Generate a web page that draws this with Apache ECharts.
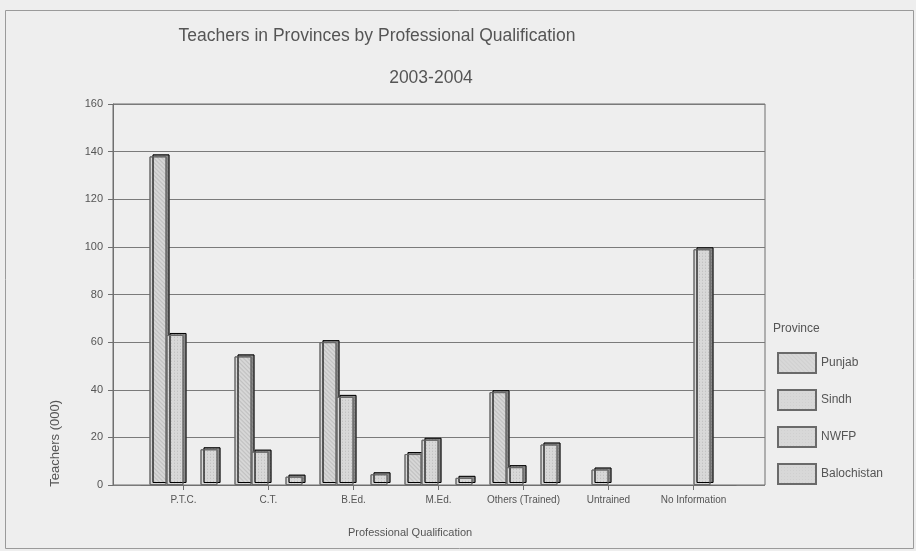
<!DOCTYPE html>
<html>
<head>
<meta charset="utf-8">
<script src="https://cdn.jsdelivr.net/npm/echarts@6/dist/echarts.min.js"></script>
<style>
  html, body { margin: 0; padding: 0; background: #e9e9e9; }
  #chart { width: 916px; height: 551px; }
</style>
</head>
<body>
<div id="chart"></div>
<script>
// categories along the x axis
const qualifications = ["P.T.C.", "C.T.", "B.Ed.", "M.Ed.", "Others (Trained)", "Untrained", "No Information"];

// teachers in thousands
const punjab = [138, 54, 60, 13, 39, 0, 0];
const sindh = [63, 14, 37, 19, 7.5, 6.5, 0];
const nwfp = [0, 0, 0, 0, 0, 0, 99];
const balochistan = [15, 3.5, 4.5, 3, 17, 0, 0];

const provinces = ["Punjab", "Sindh", "NWFP", "Balochistan"];
const yTicks = { min: 0, max: 160, step: 20 };

const chart = echarts.init(document.getElementById("chart"));

const textColor = "#555";
const font = "Liberation Sans, Arial, sans-serif";

// hatch pattern for Punjab, fine dots for the rest
const crossHatch = {
  symbol: "rect",
  symbolSize: 0.5,
  dashArrayX: [1, 0],
  dashArrayY: [1, 2],
  rotation: Math.PI / 4,
  color: "rgba(120,120,120,0.35)",
};
const dots = {
  symbol: "rect",
  symbolSize: 0.6,
  dashArrayX: [1, 2],
  dashArrayY: [1, 2],
  color: "rgba(140,140,140,0.35)",
};

const makeBar = (name, data, decal) => ({
  name,
  type: "bar",
  xAxisIndex: 1,
  yAxisIndex: 1,
  data: data.map((v) => (v === 0 ? null : v)),
  barGap: "0%",
  barCategoryGap: "20%",
  itemStyle: {
    color: "#d8d8d8",
    borderColor: "#6a6a6a",
    borderWidth: 1,
    decal,
    shadowColor: "#8a8a8a",
    shadowOffsetX: 3,
    shadowOffsetY: -2,
    shadowBlur: 0,
  },
});

chart.setOption({
  backgroundColor: "#eeeeee",
  animation: false,
  textStyle: { fontFamily: font },
  title: [
    {
      text: "Teachers in Provinces by Professional Qualification",
      left: 372,
      top: 22,
      textAlign: "center",
      textStyle: { fontSize: 17.5, fontWeight: "normal", color: textColor, fontFamily: font },
    },
    {
      text: "2003-2004",
      left: 426,
      top: 64,
      textAlign: "center",
      textStyle: { fontSize: 17.5, fontWeight: "normal", color: textColor, fontFamily: font },
    },
    {
      text: "Province",
      left: 768,
      top: 318,
      textStyle: { fontSize: 12, fontWeight: "normal", color: textColor, fontFamily: font },
    },
  ],
  legend: {
    orient: "vertical",
    left: 772,
    top: 347,
    itemWidth: 38,
    itemHeight: 20,
    itemGap: 15,
    icon: "rect",
    textStyle: { fontSize: 12, color: textColor, fontFamily: font },
    data: provinces,
  },
  graphic: [
    {
      type: "rect",
      left: 3,
      top: 8,
      shape: { width: 908, height: 538 },
      style: { fill: "none", stroke: "#9a9a9a", lineWidth: 1 },
    },
    {
      type: "text",
      left: 49,
      top: 400,
      rotation: Math.PI / 2,
      style: { text: "Teachers (000)", fill: textColor, font: "13px " + font },
    },
    {
      type: "text",
      left: 348,
      top: 527,
      style: { text: "Professional Qualification", fill: textColor, font: "11px " + font },
    },
  ],
  grid: [
    // frame with gridlines
    { left: 113, right: 151, top: 104, bottom: 66, show: true, borderColor: "#6f6f6f", borderWidth: 1, backgroundColor: "transparent" },
    // bars, inset inside the frame like the original
    { left: 141, right: 180, top: 104, bottom: 66 },
  ],
  xAxis: [
    {
      gridIndex: 0,
      type: "category",
      data: qualifications,
      axisLine: { show: false },
      axisTick: { show: false },
      axisLabel: { show: false },
    },
    {
      gridIndex: 1,
      type: "category",
      data: qualifications,
      axisLine: { show: true, lineStyle: { color: "#6f6f6f" } },
      axisTick: { show: true, alignWithLabel: true, length: 5, lineStyle: { color: "#6f6f6f" } },
      axisLabel: { color: textColor, fontSize: 10, margin: 10, interval: 0, fontFamily: font },
    },
  ],
  yAxis: [
    {
      gridIndex: 0,
      type: "value",
      min: yTicks.min,
      max: yTicks.max,
      interval: yTicks.step,
      axisLine: { show: true, lineStyle: { color: "#6f6f6f" } },
      axisTick: { show: true, length: 5, lineStyle: { color: "#6f6f6f" } },
      axisLabel: { color: textColor, fontSize: 11, margin: 10, fontFamily: font },
      splitLine: { show: true, lineStyle: { color: "#7a7a7a", width: 1 } },
    },
    {
      gridIndex: 1,
      type: "value",
      min: yTicks.min,
      max: yTicks.max,
      interval: yTicks.step,
      show: false,
      splitLine: { show: false },
    },
  ],
  series: [
    makeBar("Punjab", punjab, crossHatch),
    makeBar("Sindh", sindh, dots),
    makeBar("NWFP", nwfp, dots),
    makeBar("Balochistan", balochistan, dots),
  ],
});
</script>
</body>
</html>
